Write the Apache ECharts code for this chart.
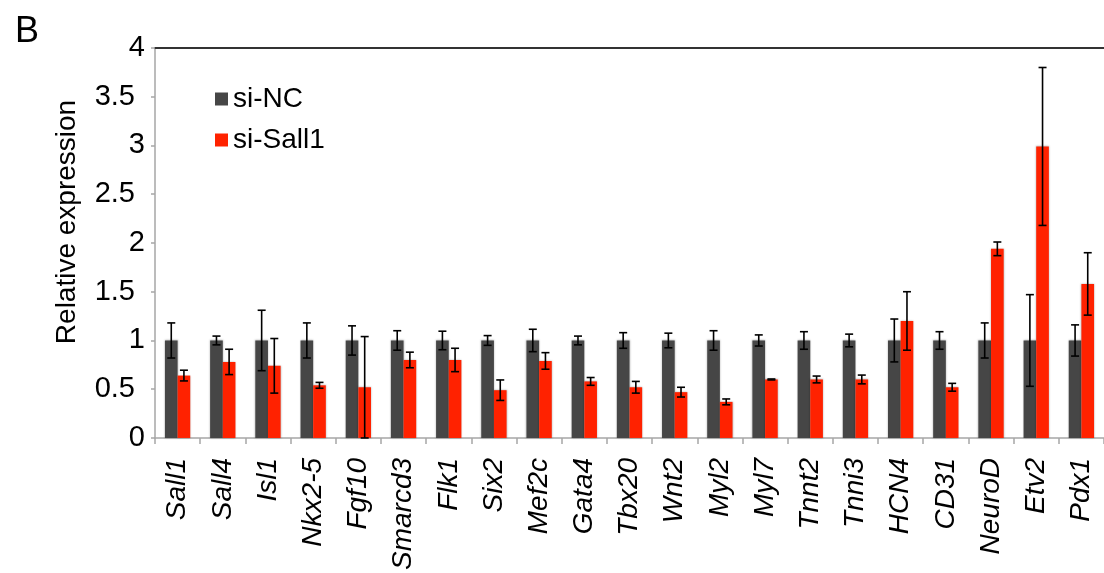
<!DOCTYPE html>
<html>
<head>
<meta charset="utf-8">
<script src="https://cdn.jsdelivr.net/npm/echarts@6/dist/echarts.min.js"></script>
<style>
  html, body { margin: 0; padding: 0; background: #fff; }
  #chart { width: 1104px; height: 573px; }
</style>
</head>
<body>
<div id="chart"></div>
<script>
// Gene panel: relative expression after control vs Sall1 knockdown
const genes = ['Sall1', 'Sall4', 'Isl1', 'Nkx2-5', 'Fgf10', 'Smarcd3', 'Flk1', 'Six2', 'Mef2c', 'Gata4',
  'Tbx20', 'Wnt2', 'Myl2', 'Myl7', 'Tnnt2', 'Tnni3', 'HCN4', 'CD31', 'NeuroD', 'Etv2', 'Pdx1'];

const siNC = [1, 1, 1, 1, 1, 1, 1, 1, 1, 1, 1, 1, 1, 1, 1, 1, 1, 1, 1, 1, 1];
const siNCErr = [0.18, 0.045, 0.31, 0.18, 0.15, 0.10, 0.095, 0.05, 0.115, 0.045, 0.08,
  0.075, 0.10, 0.057, 0.09, 0.065, 0.22, 0.09, 0.18, 0.47, 0.16];

const siSall1 = [0.64, 0.78, 0.74, 0.54, 0.52, 0.80, 0.80, 0.49, 0.79, 0.58, 0.52,
  0.47, 0.37, 0.60, 0.60, 0.60, 1.20, 0.52, 1.94, 2.99, 1.58];
const siSall1Err = [0.055, 0.13, 0.28, 0.03, 0.52, 0.08, 0.12, 0.105, 0.085, 0.04, 0.06,
  0.05, 0.03, 0.005, 0.035, 0.045, 0.30, 0.04, 0.07, 0.81, 0.32];

const yTicks = { min: 0, max: 4, step: 0.5 };

const FONT = '"Liberation Sans", Arial, Helvetica, sans-serif';
const BAR_FRAC = 0.28;           // each bar's share of a category band
const COLOR_NC = '#464646';
const COLOR_SALL1 = '#ff2200';

// error bars, shifted left (-1) or right (+1) onto their bar
function errorBars(shift) {
  return function (params, api) {
    const i = api.value(0);
    const m = api.value(1);
    const e = api.value(2);
    const band = api.size([1, 0])[0];
    const dx = shift * band * BAR_FRAC / 2;
    const hi = api.coord([i, m + e]);
    const lo = api.coord([i, Math.max(0, m - e)]);
    const x = hi[0] + dx;
    const cap = 4;
    const style = { stroke: '#000', lineWidth: 1.6 };
    return {
      type: 'group',
      children: [
        { type: 'line', shape: { x1: x, y1: hi[1], x2: x, y2: lo[1] }, style },
        { type: 'line', shape: { x1: x - cap, y1: hi[1], x2: x + cap, y2: hi[1] }, style },
        { type: 'line', shape: { x1: x - cap, y1: lo[1], x2: x + cap, y2: lo[1] }, style }
      ]
    };
  };
}

const chart = echarts.init(document.getElementById('chart'), null, { renderer: 'canvas' });

chart.setOption({
  animation: false,
  backgroundColor: '#fff',
  textStyle: { fontFamily: FONT },
  title: {
    text: 'B',
    left: 10,
    top: 9,
    textStyle: { fontFamily: FONT, fontSize: 36, fontWeight: 'normal', color: '#000' }
  },
  legend: {
    orient: 'vertical',
    left: 210,
    top: 80,
    itemWidth: 13,
    itemHeight: 13,
    itemGap: 13,
    icon: 'rect',
    textStyle: { fontFamily: FONT, fontSize: 28, color: '#000', lineHeight: 28 },
    data: ['si-NC', 'si-Sall1']
  },
  grid: { left: 155, top: 48, bottom: 135, right: -9, containLabel: false },
  xAxis: [
    {
      type: 'category',
      data: genes,
      axisLine: { lineStyle: { color: '#a6a6a6', width: 1.5 } },
      axisTick: { show: true, length: 6, lineStyle: { color: '#a6a6a6', width: 1.5 } },
      axisLabel: {
        interval: 0,
        rotate: 90,
        margin: 20,
        fontFamily: FONT,
        fontSize: 28,
        fontStyle: 'italic',
        color: '#000'
      }
    },
    {
      type: 'category',
      data: genes,
      position: 'top',
      axisLine: { lineStyle: { color: '#333', width: 2 } },
      axisTick: { show: false },
      axisLabel: { show: false }
    }
  ],
  yAxis: {
    type: 'value',
    min: yTicks.min,
    max: yTicks.max,
    interval: yTicks.step,
    name: 'Relative expression',
    nameLocation: 'middle',
    nameGap: 74,
    nameTextStyle: { fontFamily: FONT, fontSize: 28, color: '#000', padding: [0, 0, 0, 42] },
    splitLine: { show: false },
    axisLine: { show: true, lineStyle: { color: '#a6a6a6', width: 1.5 } },
    axisTick: { show: true, length: 4, lineStyle: { color: '#a6a6a6', width: 1.5 } },
    axisLabel: {
      margin: 10,
      color: '#000',
      formatter: function (v) {
        return Number.isInteger(v) ? '{i|' + v + '}' : '{d|' + v + '}';
      },
      rich: {
        i: { fontFamily: FONT, fontSize: 29, color: '#000' },
        d: { fontFamily: FONT, fontSize: 29, color: '#000', padding: [0, 10, 0, 0] }
      }
    }
  },
  series: [
    {
      name: 'si-NC',
      type: 'bar',
      data: siNC,
      barWidth: (BAR_FRAC * 100) + '%',
      barGap: '0%',
      itemStyle: { color: COLOR_NC, shadowBlur: 2, shadowColor: 'rgba(0,0,0,0.3)' }
    },
    {
      name: 'si-Sall1',
      type: 'bar',
      data: siSall1,
      barWidth: (BAR_FRAC * 100) + '%',
      barGap: '0%',
      itemStyle: { color: COLOR_SALL1, shadowBlur: 2, shadowColor: 'rgba(0,0,0,0.3)' }
    },
    {
      type: 'custom',
      renderItem: errorBars(-1),
      data: siNC.map((v, i) => [i, v, siNCErr[i]]),
      encode: { x: 0, y: [1, 2] },
      z: 10,
      silent: true
    },
    {
      type: 'custom',
      renderItem: errorBars(1),
      data: siSall1.map((v, i) => [i, v, siSall1Err[i]]),
      encode: { x: 0, y: [1, 2] },
      z: 10,
      silent: true
    }
  ]
});
</script>
</body>
</html>
